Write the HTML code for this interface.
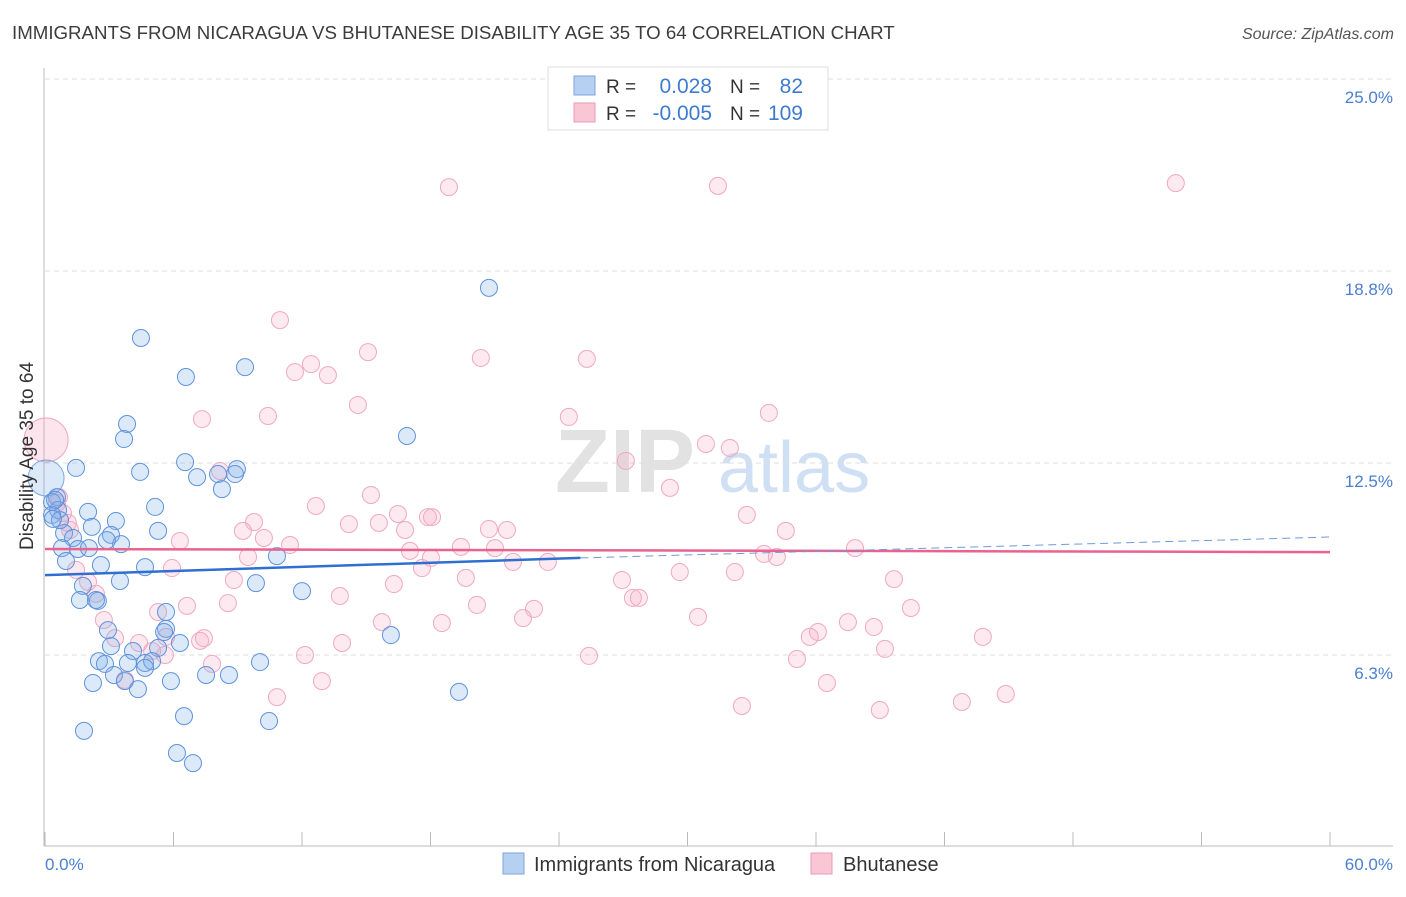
<!DOCTYPE html>
<html><head><meta charset="utf-8"><style>
body{margin:0;background:#fff;font-family:"Liberation Sans",sans-serif;}
svg text{font-family:"Liberation Sans",sans-serif;}
</style></head><body>
<svg id="chart" width="1406" height="892" xmlns="http://www.w3.org/2000/svg">
<text x="12" y="39" font-size="18.7" fill="#3c3c3c">IMMIGRANTS FROM NICARAGUA VS BHUTANESE DISABILITY AGE 35 TO 64 CORRELATION CHART</text>
<text x="1394" y="39" font-size="16" fill="#555" text-anchor="end" font-style="italic">Source: ZipAtlas.com</text>
<g>
<text x="555" y="492" font-size="90" fill="#e2e2e2" font-family="Liberation Serif" font-weight="bold">ZIP</text>
<text x="718" y="492" font-size="72" fill="#d0e0f4">atlas</text>
</g>
<g id="grid"></g>
<g id="axes"></g>
<g id="pts"></g>
<g id="lines"></g>
<text transform="translate(33,456) rotate(-90)" font-size="19" fill="#333" text-anchor="middle">Disability Age 35 to 64</text>
<g>
<rect x="548" y="67" width="280" height="63" fill="#fff" stroke="#ddd"/>
<rect x="574" y="76" width="21" height="19" fill="#b6d0f2" stroke="#7ea6dc"/>
<rect x="574" y="103" width="21" height="19" fill="#f9c6d5" stroke="#ec9ab5"/>
<text x="606" y="93" font-size="19" fill="#333">R =</text>
<text x="712" y="93" font-size="21" fill="#3d7bd2" text-anchor="end">0.028</text>
<text x="730" y="93" font-size="19" fill="#333">N =</text>
<text x="803" y="93" font-size="21" fill="#3d7bd2" text-anchor="end">82</text>
<text x="606" y="120" font-size="19" fill="#333">R =</text>
<text x="712" y="120" font-size="21" fill="#3d7bd2" text-anchor="end">-0.005</text>
<text x="730" y="120" font-size="19" fill="#333">N =</text>
<text x="803" y="120" font-size="21" fill="#3d7bd2" text-anchor="end">109</text>
</g>
<g>
<rect x="503" y="853" width="21" height="21" fill="#b6d0f2" stroke="#7ea6dc"/>
<text x="534" y="871" font-size="20" fill="#333">Immigrants from Nicaragua</text>
</g>
<g>
<rect x="811" y="853" width="21" height="21" fill="#f9c6d5" stroke="#ec9ab5"/>
<text x="843" y="871" font-size="20" fill="#333">Bhutanese</text>
</g>
</svg>
<script>
const yTicks=[25.0,18.75,12.5,6.25];
const yTickLabels=["25.0%","18.8%","12.5%","6.3%"];
const xTickLabels=["0.0%","60.0%"];
const blueX=[20.73,4.48,9.34,6.58,3.83,16.90,3.69,1.45,6.54,4.44,8.96,8.87,7.10,8.08,8.26,5.14,5.28,0.56,0.33,0.61,0.33,2.01,3.31,2.19,0.89,1.31,3.08,3.55,2.89,0.79,1.54,2.05,0.98,2.61,4.67,10.83,3.50,9.85,1.77,12.00,2.47,1.63,2.38,5.65,2.94,5.65,5.56,16.15,3.08,4.11,6.30,5.28,4.67,5.00,3.87,2.52,2.80,10.04,3.22,4.67,2.24,3.73,4.34,5.88,7.52,8.59,19.33,6.49,10.46,1.82,6.16,6.91,0.47,0.70,0.37];
const blueY=[18.20,16.57,15.62,15.30,13.77,13.38,13.28,12.34,12.53,12.21,12.30,12.14,12.04,12.14,11.65,11.07,10.29,11.39,11.23,10.97,10.81,10.91,10.61,10.42,10.22,10.06,10.16,9.86,9.99,9.73,9.70,9.73,9.31,9.18,9.11,9.47,8.66,8.59,8.50,8.33,8.01,8.04,8.04,7.65,7.06,7.10,7.00,6.90,6.54,6.38,6.64,6.48,5.99,6.05,5.99,6.05,5.96,6.02,5.60,5.83,5.34,5.40,5.14,5.40,5.60,5.60,5.05,4.26,4.10,3.78,3.06,2.73,11.30,10.64,10.68];
const pinkX=[18.86,31.42,52.80,10.97,15.08,20.35,25.30,12.42,11.67,13.21,14.61,7.33,10.41,24.46,33.80,30.86,31.98,27.12,8.17,29.18,15.22,12.65,32.77,0.65,16.48,18.07,17.88,20.73,21.57,14.19,15.59,16.81,9.76,9.24,34.59,1.07,1.17,6.30,10.22,11.44,9.48,17.04,19.42,21.01,18.02,33.57,34.17,37.82,23.48,21.85,17.60,5.93,1.45,8.82,16.29,19.65,26.94,29.64,32.21,39.64,2.01,2.38,13.77,27.45,27.73,6.63,8.54,5.28,20.17,22.83,22.32,40.43,30.49,2.75,15.73,18.53,37.49,38.70,36.09,35.71,3.27,7.42,5.65,7.24,13.87,39.22,43.79,5.00,4.39,5.60,12.14,25.40,35.11,7.80,12.93,36.51,3.73,10.83,32.54,38.98,42.81,44.86,0.56,0.84];
const pinkY=[21.48,21.52,21.61,17.15,16.11,15.92,15.89,15.72,15.46,15.36,14.39,13.93,14.03,14.00,14.13,13.12,12.99,12.57,12.24,11.69,11.46,11.10,10.81,11.39,10.84,10.74,10.74,10.35,10.32,10.51,10.55,10.32,10.58,10.29,10.29,10.55,10.32,9.96,10.06,9.83,9.44,9.64,9.77,9.73,9.41,9.54,9.44,9.73,9.28,9.28,9.08,9.08,9.02,8.69,8.56,8.76,8.69,8.95,8.95,8.72,8.63,8.24,8.17,8.11,8.11,7.85,7.94,7.65,7.88,7.75,7.45,7.78,7.49,7.39,7.32,7.29,7.32,7.16,7.00,6.84,6.80,6.80,6.84,6.71,6.64,6.45,6.84,6.38,6.64,6.25,6.25,6.22,6.12,5.96,5.40,5.34,5.44,4.88,4.59,4.46,4.72,4.98,11.20,10.87];
const bigBlue=[0.05,12.01];
const bigPink=[0.05,13.25];
const blueTrend=[8.85,9.41,10.09]; // y at x=0, 25, 60
const pinkTrend=[9.70,9.60]; // y at x=0, 60
const NS='http://www.w3.org/2000/svg';
const X0=45,X1=1330,Y25=79,PPU=192/6.25;
const sx=v=>X0+(X1-X0)*v/60;
const sy=v=>Y25+(25-v)*PPU;
function mk(tag,attrs,parent){const e=document.createElementNS(NS,tag);for(const k in attrs)e.setAttribute(k,attrs[k]);parent.appendChild(e);return e;}
const grid=document.getElementById('grid'),axes=document.getElementById('axes');
yTicks.forEach((t,i)=>{
 const l=mk('line',{x1:45,x2:1393,y1:sy(t),y2:sy(t),stroke:'#ddd','stroke-dasharray':'5,4'},grid);
 
 
 const tx=mk('text',{x:1393,y:sy(t)+24,'font-size':17,fill:'#4a7fd0','text-anchor':'end'},axes);
 tx.textContent=yTickLabels[i];
 
 
});
mk('line',{x1:44,x2:44,y1:68,y2:846,stroke:'#bbb'},axes);
mk('line',{x1:44,x2:1393,y1:846,y2:846,stroke:'#bbb'},axes);
for(let i=0;i<=10;i++){const x=sx(i*6);mk('line',{x1:x,x2:x,y1:832,y2:846,stroke:'#bbb'},axes);}
const xl0=mk('text',{x:45,y:870,'font-size':17,fill:'#4a7fd0'},axes);xl0.textContent=xTickLabels[0];


const xl1=mk('text',{x:1393,y:870,'font-size':17,fill:'#4a7fd0','text-anchor':'end'},axes);xl1.textContent=xTickLabels[1];


const pts=document.getElementById('pts');
const big1=mk('circle',{cx:sx(bigPink[0]),cy:sy(bigPink[1]),r:22,fill:'rgba(246,170,196,0.3)',stroke:'#f0a8c0','stroke-width':1},pts);


pinkX.forEach((v,i)=>{const c=mk('circle',{cx:sx(v),cy:sy(pinkY[i]),r:8.5,fill:'rgba(246,170,196,0.25)',stroke:'#f0a8c0','stroke-width':1},pts);
 
 });
const big2=mk('circle',{cx:sx(bigBlue[0]),cy:sy(bigBlue[1]),r:18,fill:'rgba(130,175,235,0.28)',stroke:'#7aa6e0','stroke-width':1},pts);


blueX.forEach((v,i)=>{const c=mk('circle',{cx:sx(v),cy:sy(blueY[i]),r:8.5,fill:'rgba(130,175,235,0.28)',stroke:'#5e93dc','stroke-width':1},pts);
 
 });
const lines=document.getElementById('lines');
const pl=mk('line',{x1:sx(0),y1:sy(pinkTrend[0]),x2:sx(60),y2:sy(pinkTrend[1]),stroke:'#e8638f','stroke-width':2.5},lines);


const bl=mk('line',{x1:sx(0),y1:sy(blueTrend[0]),x2:sx(25),y2:sy(blueTrend[1]),stroke:'#2f6fd0','stroke-width':2.5},lines);


const bd=mk('line',{x1:sx(25),y1:sy(blueTrend[1]),x2:sx(60),y2:sy(blueTrend[2]),stroke:'#6f9ad8','stroke-width':1,'stroke-dasharray':'8,5'},lines);


</script>
</body></html>
